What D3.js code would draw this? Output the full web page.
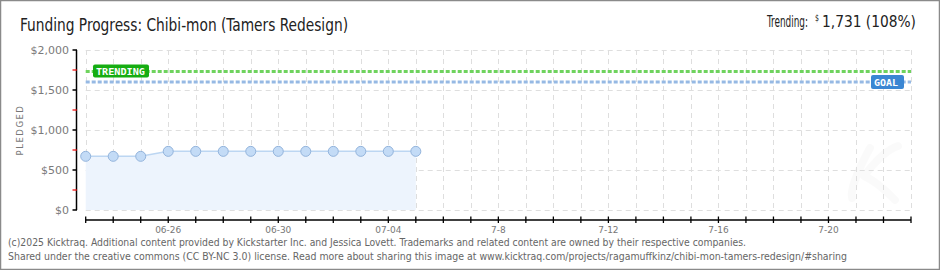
<!DOCTYPE html>
<html><head><meta charset="utf-8">
<script src="https://cdn.jsdelivr.net/npm/d3@7"></script>
<style>
html,body{margin:0;padding:0;background:#fff;}
svg{display:block;}
</style></head>
<body>
<svg id="c" width="940" height="270"></svg>
<script>
const dates = ["2025-06-23","2025-06-24","2025-06-25","2025-06-26","2025-06-27","2025-06-28","2025-06-29","2025-06-30","2025-07-01","2025-07-02","2025-07-03","2025-07-04","2025-07-05"];
const pledged = [671,671,671,733,733,733,733,733,733,733,733,733,733];
const goal = 1600;
const trending = 1731;
const startDate = "2025-06-23";
const endDate = "2025-07-23";
const xTickDates = ["2025-06-26","2025-06-30","2025-07-04","2025-07-08","2025-07-12","2025-07-16","2025-07-20"];
const xTickLabels = ["06-26","06-30","07-04","7-8","7-12","7-16","7-20"];
const yTicks = [0,500,1000,1500,2000];
const yTickLabels = ["$0","$500","$1,000","$1,500","$2,000"];
const yMinorTicks = [250,750,1250,1750];

const parse = d3.utcParse("%Y-%m-%d");
const svg = d3.select("#c");
const W = 940, H = 270;

// border
svg.append("rect").attr("x",0.5).attr("y",0.5).attr("width",W-1).attr("height",H-1)
  .attr("fill","#fff").attr("stroke","#8a8a8a").attr("stroke-width",1.5);

const x = d3.scaleUtc().domain([parse(startDate), parse(endDate)]).range([85.7, 911]);
const y = d3.scaleLinear().domain([0,2000]).range([210,50]);

const allDays = d3.utcDay.range(parse(startDate), d3.utcDay.offset(parse(endDate),1));

// watermark
const wm = svg.append("g").attr("opacity",0.018).attr("fill","none").attr("stroke","#000").attr("stroke-width",8).attr("stroke-linecap","round").attr("stroke-linejoin","round");
wm.append("path").attr("d","M870,148 C858,170 850,190 852,198 M898,146 C885,150 870,168 864,176 C878,182 890,195 895,200");

// grid
const grid = svg.append("g").attr("stroke","#dedede").attr("stroke-width",1).attr("stroke-dasharray","5,4");
grid.selectAll("line.v").data(allDays).join("line")
  .attr("x1",d=>Math.round(x(d))+0.5).attr("x2",d=>Math.round(x(d))+0.5)
  .attr("y1",y(2000)).attr("y2",y(0));
grid.selectAll("line.h").data(yTicks).join("line")
  .attr("x1",x(parse(startDate))).attr("x2",x(parse(endDate)))
  .attr("y1",d=>y(d)+0.5).attr("y2",d=>y(d)+0.5);

// area + line
const pts = dates.map((d,i)=>({d:parse(d), v:pledged[i]}));
svg.append("path").datum(pts)
  .attr("d", d3.area().x(d=>x(d.d)).y0(y(0)).y1(d=>y(d.v)))
  .attr("fill","#edf4fd");
svg.append("path").datum(pts)
  .attr("d", d3.line().x(d=>x(d.d)).y(d=>y(d.v)))
  .attr("fill","none").attr("stroke","#bcd6f2").attr("stroke-width",1.5);

// goal & trending lines
svg.append("line").attr("x1",x(parse(startDate))).attr("x2",x(parse(endDate)))
  .attr("y1",y(trending)).attr("y2",y(trending))
  .attr("stroke","#6fd35e").attr("stroke-width",3).attr("stroke-dasharray","4,2");
svg.append("line").attr("x1",x(parse(startDate))).attr("x2",x(parse(endDate)))
  .attr("y1",y(goal)).attr("y2",y(goal))
  .attr("stroke","#96b9e4").attr("stroke-width",3).attr("stroke-dasharray","4,2");

// points
svg.selectAll("circle.p").data(pts).join("circle")
  .attr("cx",d=>x(d.d)).attr("cy",d=>y(d.v)).attr("r",5)
  .attr("fill","#c3dbf6").attr("stroke","#93b4dc").attr("stroke-width",1);

// labels TRENDING / GOAL
const tg = svg.append("g");
tg.append("rect").attr("x",93).attr("y",y(trending)-7).attr("width",56).attr("height",13).attr("rx",2).attr("fill","#16ad12");
tg.append("text").attr("x",96).attr("y",y(trending)+3.5)
  .attr("font-family","DejaVu Sans Mono, monospace").attr("font-weight","bold").attr("font-size",9).attr("fill","#fff")
  .attr("textLength",49).attr("lengthAdjust","spacingAndGlyphs").text("TRENDING");
const gg = svg.append("g");
gg.append("rect").attr("x",871).attr("y",y(goal)-7).attr("width",33).attr("height",14).attr("rx",2).attr("fill","#3a86d3");
gg.append("text").attr("x",874).attr("y",y(goal)+3.5)
  .attr("font-family","DejaVu Sans Mono, monospace").attr("font-weight","bold").attr("font-size",9).attr("fill","#fff")
  .attr("textLength",24).attr("lengthAdjust","spacingAndGlyphs").text("GOAL");

// y axis
const ya = svg.append("g");
ya.append("line").attr("x1",76.5).attr("x2",76.5).attr("y1",y(2000)).attr("y2",y(0)).attr("stroke","#000").attr("stroke-width",1.5);
ya.selectAll("line.t").data(yTicks).join("line")
  .attr("x1",72.5).attr("x2",77).attr("y1",d=>y(d)).attr("y2",d=>y(d)).attr("stroke","#000").attr("stroke-width",1.5);
ya.selectAll("line.m").data(yMinorTicks).join("line")
  .attr("x1",72.5).attr("x2",77).attr("y1",d=>y(d)).attr("y2",d=>y(d)).attr("stroke","#e00").attr("stroke-width",1.2);
ya.selectAll("text").data(yTicks).join("text")
  .attr("x",69).attr("y",d=>y(d)+4).attr("text-anchor","end")
  .attr("font-family","DejaVu Sans, sans-serif").attr("font-size",11).attr("fill","#7a7a7a")
  .text((d,i)=>yTickLabels[i]);
svg.append("text").attr("transform","translate(23,130) rotate(-90)").attr("text-anchor","middle")
  .attr("font-family","DejaVu Sans, sans-serif").attr("font-size",8.5).attr("fill","#777").attr("letter-spacing",1.5)
  .text("PLEDGED");

// x axis
const xa = svg.append("g");
xa.append("line").attr("x1",x(parse(startDate))).attr("x2",x(parse(endDate))).attr("y1",220).attr("y2",220).attr("stroke","#000").attr("stroke-width",1.5);
xa.selectAll("line.t").data(allDays).join("line")
  .attr("x1",d=>x(d)).attr("x2",d=>x(d)).attr("y1",216.5).attr("y2",223).attr("stroke","#000").attr("stroke-width",1.3);
xa.selectAll("text").data(xTickDates).join("text")
  .attr("x",d=>x(parse(d))).attr("y",233).attr("text-anchor","middle")
  .attr("font-family","DejaVu Sans, sans-serif").attr("font-size",9).attr("fill","#777")
  .text((d,i)=>xTickLabels[i]);

// title
svg.append("text").attr("x",20).attr("y",31)
  .attr("font-family","Liberation Sans Narrow, DejaVu Sans Condensed, sans-serif").attr("font-size",17).attr("fill","#222")
  .attr("textLength",328).attr("lengthAdjust","spacingAndGlyphs")
  .text("Funding Progress: Chibi-mon (Tamers Redesign)");

// trending text: pieces squeezed horizontally with transforms so boxes don't overlap
const tf = "Liberation Sans Narrow, DejaVu Sans Condensed, sans-serif";
function squeezed(str, x0, targetW, baseY, size){
  const g = svg.append("g");
  const t = g.append("text").attr("x",0).attr("y",0).attr("font-family",tf).attr("font-size",size).attr("fill","#222").text(str);
  const w = t.node().getComputedTextLength();
  const s = Math.min(1, targetW / w);
  g.attr("transform",`translate(${x0},${baseY}) scale(${s},1)`);
}
squeezed("Trending:", 767, 41, 27, 16);
squeezed("$", 815, 4, 21, 9);
squeezed(d3.format(",")(trending) + " (" + Math.round(trending/goal*100) + "%)", 822, 94, 27, 16);

// footer
const ft = svg.append("g").attr("font-family",tf).attr("font-size",10.5).attr("fill","#666");
ft.append("text").attr("x",8).attr("y",246).attr("textLength",738).attr("lengthAdjust","spacingAndGlyphs")
  .text("(c)2025 Kicktraq. Additional content provided by Kickstarter Inc. and Jessica Lovett. Trademarks and related content are owned by their respective companies.");
ft.append("text").attr("x",8).attr("y",260).attr("textLength",839).attr("lengthAdjust","spacingAndGlyphs")
  .text("Shared under the creative commons (CC BY-NC 3.0) license. Read more about sharing this image at www.kicktraq.com/projects/ragamuffkinz/chibi-mon-tamers-redesign/#sharing");
</script>
</body></html>
